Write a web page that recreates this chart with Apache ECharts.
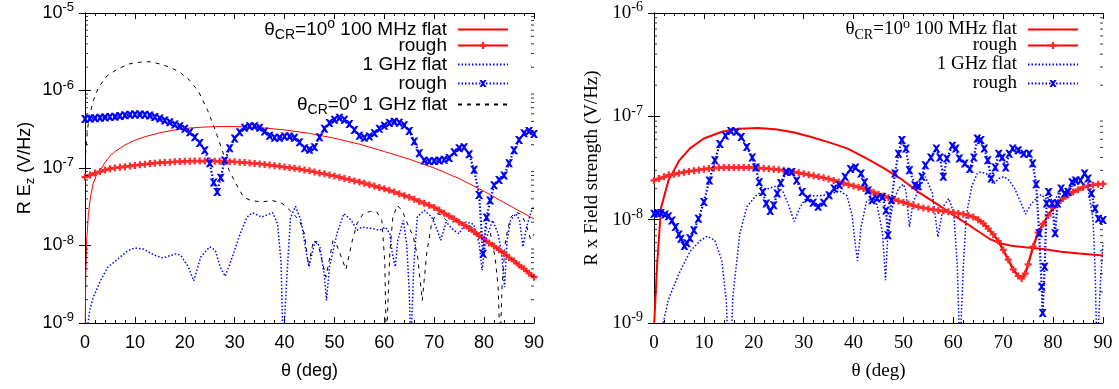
<!DOCTYPE html>
<html><head><meta charset="utf-8">
<script src="https://cdn.jsdelivr.net/npm/echarts@6.0.0/dist/echarts.min.js"></script>
<style>html,body{margin:0;padding:0;background:#fff}#c{width:1119px;height:389px}</style>
</head><body><div id="c"></div>
<script>
// ---------- LEFT PANEL DATA : [theta (deg), R*E_z (V/Hz)] ----------
const redFlatL = [[0.05,1e-9],[0.15,4e-9],[0.35,1.2e-8],[0.7,2.6e-8],[1.1,4.2e-8],[1.6,6.2e-8],[2.2,7.8e-8],[3,9.3e-8],[4,1.18e-7],[5,1.42e-7],[6,1.63e-7],[8,1.98e-7],[10,2.28e-7],[12,2.53e-7],[15,2.85e-7],[18,3.1e-7],[21,3.28e-7],[24,3.38e-7],[27,3.43e-7],[30,3.42e-7],[33,3.37e-7],[36,3.28e-7],[40,3.1e-7],[45,2.8e-7],[50,2.42e-7],[55,2.03e-7],[60,1.63e-7],[65,1.3e-7],[70,1.0e-7],[75,7.3e-8],[80,5.0e-8],[85,3.3e-8],[90,2.2e-8]];
const redRoughL = [[0,7.65e-8],[1,8.1e-8],[2,8.6e-8],[3,9.0e-8],[4,9.4e-8],[5,9.8e-8],[6,1.0e-7],[7,1.02e-7],[8,1.04e-7],[9,1.06e-7],[10,1.08e-7],[11,1.1e-7],[12,1.12e-7],[13,1.14e-7],[14,1.155e-7],[15,1.17e-7],[16,1.18e-7],[17,1.19e-7],[18,1.2e-7],[19,1.21e-7],[20,1.22e-7],[21,1.225e-7],[22,1.23e-7],[23,1.23e-7],[24,1.23e-7],[25,1.23e-7],[26,1.225e-7],[27,1.22e-7],[28,1.21e-7],[29,1.205e-7],[30,1.2e-7],[31,1.19e-7],[32,1.175e-7],[33,1.16e-7],[34,1.145e-7],[35,1.13e-7],[36,1.11e-7],[37,1.09e-7],[38,1.07e-7],[39,1.05e-7],[40,1.03e-7],[41,1.01e-7],[42,9.9e-8],[43,9.7e-8],[44,9.4e-8],[45,9.2e-8],[46,8.9e-8],[47,8.6e-8],[48,8.4e-8],[49,8.1e-8],[50,7.9e-8],[51,7.6e-8],[52,7.3e-8],[53,7.1e-8],[54,6.8e-8],[55,6.6e-8],[56,6.35e-8],[57,6.1e-8],[58,5.85e-8],[59,5.6e-8],[60,5.4e-8],[61,5.15e-8],[62,4.9e-8],[63,4.65e-8],[64,4.4e-8],[65,4.2e-8],[66,3.95e-8],[67,3.7e-8],[68,3.5e-8],[69,3.3e-8],[70,3.1e-8],[71,2.85e-8],[72,2.6e-8],[73,2.4e-8],[74,2.2e-8],[75,2.0e-8],[76,1.83e-8],[77,1.66e-8],[78,1.5e-8],[79,1.35e-8],[80,1.2e-8],[81,1.08e-8],[82,9.8e-9],[83,8.8e-9],[84,7.9e-9],[85,7.0e-9],[86,6.3e-9],[87,5.6e-9],[88,5.0e-9],[89,4.4e-9],[90,3.9e-9]];
const blueFlatL = [[0.4,8e-10],[1,1.5e-9],[1.65,2.16e-9],[3.1,3.5e-9],[4.5,5.2e-9],[6.7,6.8e-9],[8.5,8.5e-9],[10,9.3e-9],[11.7,9.0e-9],[13.9,7.5e-9],[15.7,6.9e-9],[17,7.4e-9],[18.2,7.8e-9],[19.2,7.5e-9],[20.7,5.3e-9],[21.8,3.5e-9],[23.2,7.1e-9],[25,9.6e-9],[26.1,8.7e-9],[27.1,5.3e-9],[28.1,4.0e-9],[29.3,6.45e-9],[31.1,1.42e-8],[32.5,2.33e-8],[33.6,2.65e-8],[35.4,2.33e-8],[37.6,2.65e-8],[38.6,1.9e-8],[39.3,6e-9],[39.7,5e-10],[40.1,5e-10],[40.5,4.3e-9],[41.2,2.3e-8],[42.2,3.2e-8],[43.3,2.1e-8],[44.4,7.85e-9],[44.9,5.3e-9],[45.5,7.85e-9],[46.2,1.17e-8],[47.1,9.6e-9],[48,3.95e-9],[48.4,1.95e-9],[49,5.3e-9],[50.5,1.42e-8],[51.9,2.58e-8],[53.4,2.11e-8],[54.5,1.57e-8],[55.5,1.73e-8],[57.7,1.65e-8],[59.1,1.57e-8],[60.2,1.73e-8],[61.1,1.42e-8],[61.6,7.85e-9],[62.2,5.3e-9],[62.7,1.17e-8],[63.8,2.11e-8],[64.5,1.0e-8],[65,2.4e-9],[65.3,5e-10],[65.6,5e-10],[65.9,5.3e-9],[66.6,2.33e-8],[68,2.85e-8],[69.5,2.33e-8],[70.6,1.57e-8],[71.3,1.17e-8],[72.4,2.01e-8],[73.9,1.57e-8],[75,1.42e-8],[76.4,2.01e-8],[77.9,1.88e-8],[79,1.06e-8],[79.6,4.8e-9],[80.3,1.17e-8],[81.7,2.11e-8],[82.8,1.42e-8],[83.5,7.85e-9],[84.1,2.9e-9],[84.6,1.17e-8],[85.3,2.11e-8],[86.4,2.58e-8],[87.1,2.11e-8],[87.8,9.6e-9],[88.5,1.73e-8],[89.6,2.98e-8],[90,3.1e-8]];
const blueRoughL = [[0,4.3e-7],[1,4.35e-7],[2,4.4e-7],[3,4.45e-7],[4,4.5e-7],[5,4.55e-7],[6,4.6e-7],[7,4.7e-7],[8,4.8e-7],[9,4.85e-7],[10,4.9e-7],[11,4.9e-7],[12,4.85e-7],[13,4.75e-7],[14,4.55e-7],[15,4.35e-7],[16,4.1e-7],[17,3.9e-7],[18,3.65e-7],[19,3.45e-7],[20,3.2e-7],[21,2.9e-7],[22,2.5e-7],[23,2.1e-7],[24,1.7e-7],[25,1.15e-7],[25.8,6.5e-8],[26.5,4.9e-8],[27.2,7.5e-8],[28,1.25e-7],[29,1.8e-7],[30,2.4e-7],[31,2.9e-7],[32,3.3e-7],[33,3.45e-7],[34,3.45e-7],[35,3.3e-7],[36,2.95e-7],[37,2.6e-7],[38,2.45e-7],[39,2.45e-7],[40,2.55e-7],[41,2.55e-7],[42,2.45e-7],[43,2.15e-7],[44,1.8e-7],[45,1.72e-7],[46,1.85e-7],[47,2.5e-7],[48,3.2e-7],[49,3.8e-7],[50,4.2e-7],[51,4.45e-7],[52,4.2e-7],[53,3.7e-7],[54,3.1e-7],[55,2.6e-7],[56,2.45e-7],[57,2.55e-7],[58,2.8e-7],[59,3.2e-7],[60,3.5e-7],[61,3.8e-7],[62,3.95e-7],[63,3.85e-7],[64,3.55e-7],[65,3.0e-7],[66,2.2e-7],[67,1.55e-7],[68,1.25e-7],[69,1.22e-7],[70,1.23e-7],[71,1.25e-7],[72,1.28e-7],[73,1.35e-7],[74,1.6e-7],[75,1.8e-7],[76,1.85e-7],[77,1.5e-7],[78,9.5e-8],[79,4.5e-8],[79.8,7.8e-9],[80.5,2.3e-8],[81.2,3.8e-8],[82,6.0e-8],[83,7.0e-8],[84,8.0e-8],[85,1.15e-7],[86,1.7e-7],[87,2.3e-7],[88,2.8e-7],[89,3.0e-7],[90,2.75e-7]];
const blackFlat0L = [[0.1,1.5e-7],[0.5,3.2e-7],[1,5.0e-7],[1.7,7.5e-7],[2.7,1.1e-6],[4.5,1.57e-6],[6.7,1.91e-6],[8.8,2.2e-6],[11,2.32e-6],[13,2.35e-6],[15,2.2e-6],[17,2.0e-6],[19,1.72e-6],[21,1.35e-6],[22.8,9.6e-7],[24.6,5.5e-7],[26.1,3.1e-7],[27.5,1.69e-7],[28.9,9.3e-8],[30.4,6.0e-8],[31.8,4.2e-8],[33.3,3.8e-8],[35.4,3.65e-8],[37.6,3.8e-8],[39.5,3.5e-8],[41.2,2.8e-8],[43,2.1e-8],[44,1.4e-8],[44.8,5.5e-9],[45.8,1.17e-8],[46.8,1.0e-8],[48.3,3.9e-9],[49.7,1.15e-8],[50.5,1.0e-8],[52.3,4.9e-9],[53.5,1.1e-8],[54.5,1.9e-8],[55.8,2.6e-8],[57.2,2.75e-8],[58.5,2.7e-8],[59.5,2.1e-8],[60.1,6e-9],[60.4,5e-10],[60.7,5e-10],[61.1,8e-9],[61.7,2.3e-8],[62.6,3.3e-8],[63.6,2.8e-8],[64.8,1.8e-8],[65.8,1.3e-8],[66.7,7e-9],[67.6,1.95e-9],[68.5,8e-9],[69.4,1.8e-8],[70.3,2.6e-8],[71.3,2.5e-8],[72.5,2.1e-8],[73.5,2.0e-8],[74.5,2.1e-8],[75.6,1.95e-8],[76.8,1.8e-8],[77.8,1.7e-8],[78.5,1.3e-8],[79.3,1.5e-8],[80.2,1.75e-8],[81.2,1.5e-8],[82.2,7e-9],[82.8,3e-9],[83.2,5e-10],[83.6,3e-9],[84.3,1.2e-8],[85.3,2.3e-8],[86.4,2.7e-8],[87.5,2.5e-8],[88.5,1.8e-8],[89.3,1.2e-8],[90,1.4e-8]];

// ---------- RIGHT PANEL DATA : [theta (deg), R x field strength (V/Hz)] ----------
const redFlatR = [[0.05,1e-9],[0.6,3.5e-9],[1.4,1.3e-8],[2.9,2.4e-8],[5,3.7e-8],[7.2,4.9e-8],[10,6.1e-8],[13.6,7.1e-8],[17.2,7.6e-8],[20.8,7.7e-8],[24.3,7.5e-8],[27.9,7.0e-8],[31.5,6.3e-8],[35.1,5.6e-8],[38.7,4.9e-8],[42.2,4.0e-8],[45.8,3.2e-8],[49.4,2.5e-8],[53,1.85e-8],[56.6,1.43e-8],[60.1,1.1e-8],[63.7,8.5e-9],[67.3,6.5e-9],[69.4,5.9e-9],[71.6,5.6e-9],[74.4,5.4e-9],[78,5.2e-9],[81.6,4.9e-9],[85.2,4.7e-9],[90,4.5e-9]];
const redRoughR = [[0,2.4e-8],[1,2.5e-8],[2,2.6e-8],[3,2.7e-8],[4,2.75e-8],[5,2.82e-8],[6,2.88e-8],[7,2.93e-8],[8,2.98e-8],[9,3.03e-8],[10,3.08e-8],[11,3.12e-8],[12,3.15e-8],[13,3.18e-8],[14,3.2e-8],[15,3.2e-8],[16,3.2e-8],[17,3.2e-8],[18,3.2e-8],[19,3.2e-8],[20,3.18e-8],[21,3.16e-8],[22,3.14e-8],[23,3.11e-8],[24,3.08e-8],[25,3.04e-8],[26,3.0e-8],[27,2.95e-8],[28,2.9e-8],[29,2.84e-8],[30,2.78e-8],[31,2.72e-8],[32,2.66e-8],[33,2.6e-8],[34,2.54e-8],[35,2.48e-8],[36,2.4e-8],[37,2.32e-8],[38,2.25e-8],[39,2.18e-8],[40,2.12e-8],[41,2.06e-8],[42,2.0e-8],[43,1.92e-8],[44,1.84e-8],[45,1.76e-8],[46,1.69e-8],[47,1.63e-8],[48,1.57e-8],[49,1.52e-8],[50,1.47e-8],[51,1.42e-8],[52,1.37e-8],[53,1.33e-8],[54,1.3e-8],[55,1.27e-8],[56,1.25e-8],[57,1.23e-8],[58,1.21e-8],[59,1.19e-8],[60,1.17e-8],[61,1.15e-8],[62,1.13e-8],[63,1.1e-8],[64,1.06e-8],[65,1.0e-8],[66,9.2e-9],[67,8.2e-9],[68,7.2e-9],[69,6.2e-9],[70,5.1e-9],[71,4.1e-9],[72,3.3e-9],[73,2.85e-9],[73.7,2.7e-9],[74.4,3.0e-9],[75,3.7e-9],[76,5.5e-9],[77,7.5e-9],[78,9.1e-9],[79,1.1e-8],[80,1.3e-8],[81,1.45e-8],[82,1.6e-8],[83,1.73e-8],[84,1.85e-8],[85,1.95e-8],[86,2.05e-8],[87,2.12e-8],[88,2.17e-8],[89,2.2e-8],[90,2.22e-8]];
const blueFlatR = [[1.4,8e-10],[2.9,1.7e-9],[5,3.0e-9],[7.2,4.9e-9],[9.3,6.3e-9],[10.7,6.9e-9],[12.2,6.3e-9],[13.6,4.0e-9],[14.5,1.6e-9],[14.9,5e-10],[15.4,5e-10],[15.8,1.8e-9],[17.2,7.3e-9],[18.6,1.33e-8],[20.4,1.7e-8],[22.2,1.95e-8],[24.3,2.1e-8],[25.8,1.9e-8],[26.8,1.45e-8],[28.1,9.6e-9],[29.3,1.33e-8],[30.8,1.7e-8],[32.9,1.7e-8],[35.1,1.75e-8],[37.2,1.9e-8],[38.7,1.7e-8],[39.7,1.1e-8],[40.4,5.5e-9],[40.8,4.0e-9],[41.5,8.5e-9],[42.6,1.5e-8],[43.7,1.6e-8],[44.7,1.4e-8],[45.8,7.5e-9],[46.4,2.6e-9],[46.9,7.5e-9],[48,1.5e-8],[49,2.0e-8],[50,2.2e-8],[50.5,1.9e-8],[51.2,8.5e-9],[51.9,1.45e-8],[53,1.95e-8],[54.4,2.6e-8],[55.8,1.8e-8],[56.9,6.8e-9],[58,1.35e-8],[59.1,1.6e-8],[60.1,1.15e-8],[60.8,3.5e-9],[61.3,5e-10],[61.6,5e-10],[62,3.5e-9],[62.6,1.1e-8],[63.7,2.1e-8],[64.8,2.8e-8],[65.5,2.9e-8],[66.6,2.8e-8],[68,2.2e-8],[69.1,2.5e-8],[70.2,2.6e-8],[71.2,2.4e-8],[72.3,2.0e-8],[73.4,1.5e-8],[74.5,1.13e-8],[75.5,1.4e-8],[76.6,1.6e-8],[77.6,1.75e-8],[78.5,1.6e-8],[80.2,1.5e-8],[81.6,2.0e-8],[83,2.0e-8],[84.5,2.2e-8],[85.9,2.3e-8],[87,2.0e-8],[88,1.0e-8],[88.4,3.5e-9],[88.8,5e-10],[89.2,5e-10],[89.5,2.5e-9],[90,6.0e-9]];
const blueRoughR = [[0,1.14e-8],[0.7,1.16e-8],[1.4,1.16e-8],[2.2,1.12e-8],[2.9,1.08e-8],[3.6,9.8e-9],[4.3,8.5e-9],[5,7.2e-9],[5.4,6.55e-9],[6.1,5.56e-9],[6.6,5.9e-9],[7.2,6.6e-9],[8,7.9e-9],[8.9,1.02e-8],[10,1.48e-8],[11.1,2.4e-8],[12.2,3.75e-8],[13.2,5.4e-8],[14.3,6.5e-8],[15.4,7.2e-8],[16.5,7.1e-8],[17.5,6.3e-8],[18.6,5.05e-8],[19.7,4.0e-8],[20.4,3.2e-8],[21.1,2.3e-8],[21.8,1.85e-8],[22.5,1.43e-8],[23.3,1.21e-8],[24,1.38e-8],[24.7,1.79e-8],[25.4,2.26e-8],[26.5,2.9e-8],[27.6,2.9e-8],[28.6,2.4e-8],[29.7,1.85e-8],[30.8,1.6e-8],[31.9,1.46e-8],[32.9,1.33e-8],[34,1.46e-8],[35.1,1.72e-8],[36.1,2.0e-8],[37.2,2.15e-8],[38.3,2.6e-8],[39.4,3.1e-8],[40.4,3.2e-8],[41.5,2.8e-8],[42.2,2.3e-8],[42.9,1.92e-8],[43.7,1.54e-8],[44.7,1.6e-8],[45.8,1.66e-8],[46.5,1.23e-8],[46.9,7.05e-9],[47.6,1.54e-8],[48.3,2.8e-8],[49,4.35e-8],[49.7,5.9e-8],[50.5,4.87e-8],[51.2,3.0e-8],[52.3,2.15e-8],[53,2.1e-8],[53.7,2.6e-8],[54.4,3.36e-8],[55.5,4.0e-8],[56.6,4.87e-8],[57.3,4.0e-8],[58,2.6e-8],[58.7,3.9e-8],[59.8,5.2e-8],[60.5,4.87e-8],[61.2,3.9e-8],[62.3,3.5e-8],[63.3,3.1e-8],[64.1,4.0e-8],[64.8,6.1e-8],[65.5,5.9e-8],[66.2,4.87e-8],[66.9,3.75e-8],[67.6,2.5e-8],[68.4,3.2e-8],[69.1,4.35e-8],[69.8,4.0e-8],[70.5,3.2e-8],[71.2,4.35e-8],[71.9,4.87e-8],[73,4.7e-8],[74.1,4.35e-8],[75.2,4.35e-8],[75.9,3.5e-8],[76.6,2.2e-8],[77.2,7.4e-9],[77.7,2.24e-9],[77.9,1.25e-9],[78.3,3.5e-9],[78.7,1.43e-8],[79.1,1.85e-8],[79.8,1.43e-8],[80.4,7.4e-9],[80.9,1.43e-8],[81.6,2.0e-8],[82.3,1.79e-8],[83,1.85e-8],[83.8,2.3e-8],[84.5,2.4e-8],[85.5,2.4e-8],[86.3,2.8e-8],[87,2.5e-8],[87.7,1.79e-8],[88.4,1.28e-8],[89.1,1.02e-8],[90,9.9e-9]];

// ---------- AXES / TICKS / LABELS ----------
const xTicks = {min: 0, max: 90, interval: 10};
const yRangeL = {min: 1e-9, max: 1e-5};
const yRangeR = {min: 1e-9, max: 1e-6};
const minorMantissa = [2,3,4,5,6,7,8,9];
const decadesL = [-9,-8,-7,-6];
const decadesR = [-9,-8,-7];
const legendNamesL = ['L_flat100','L_rough100','L_flat1G','L_rough1G','L_flat0'];
const legendTextL = ['{t|θ}{sb|CR}{t|=10}{sp|o}{t| 100 MHz flat}{g| }','{t|rough}{g| }','{t|1 GHz flat}{g| }','{t|rough}{g| }','{t|θ}{sb|CR}{t|=0}{sp|o}{t| 1 GHz flat}{g| }'];
const legendMarkerL = [false, true, false, true, false];
const legendNamesR = ['R_flat100','R_rough100','R_flat1G','R_rough1G'];
const legendTextR = ['{t|θ}{sb|CR}{t|=10}{sp|o}{t| 100 MHz flat}{g| }','{t|rough}{g| }','{t|1 GHz flat}{g| }','{t|rough}{g| }'];
const legendMarkerR = [false, true, false, true];
const xAxisTitle = 'θ (deg)';
const yAxisTitleL = '{t|R E}{sb|z}{t| (V/Hz)}';
const yAxisTitleR = 'R x Field strength (V/Hz)';

const SANS = 'Liberation Sans, Arial, sans-serif';
const SERIF = 'Liberation Serif, Times New Roman, serif';
const PLUS = 'path://M3.4,0H6.6V3.4H10V6.6H6.6V10H3.4V6.6H0V3.4H3.4Z';
const CROSS = 'path://M0,0L3,0L5,2.2L7,0L10,0L6.6,5L10,10L7,10L5,7.8L3,10L0,10L3.4,5Z';

function richSet(font, size){
  return {
    t: {fontFamily: font, fontSize: size, lineHeight: size + 6, color: '#000'},
    b: {fontFamily: font, fontSize: size, lineHeight: size + 6, color: '#000'},
    g: {fontFamily: font, fontSize: size, width: 6, color: '#000'},
    sb: {fontFamily: font, fontSize: Math.round(size*0.72), lineHeight: 12, verticalAlign: 'bottom', color: '#000'},
    sp: {fontFamily: font, fontSize: Math.round(size*0.72), lineHeight: 12, verticalAlign: 'top', color: '#000'}
  };
}
function logLabel(v){ const e = Math.round(Math.log10(v)); return '{b|10}{sp|' + e + '}'; }
function minorTickData(decades, x){
  const out = [];
  decades.forEach(d => minorMantissa.forEach(m => out.push([x, m * Math.pow(10, d)])));
  return out;
}

function xAxes(gi, font, size){
  const base = {gridIndex: gi, type: 'value', min: xTicks.min, max: xTicks.max, interval: xTicks.interval,
    axisLine: {show: true, lineStyle: {color: '#000', width: 1}},
    axisTick: {show: true, inside: true, length: 6, lineStyle: {color: '#000'}},
    minorTick: {show: true, splitNumber: 5, length: 3, lineStyle: {color: '#000'}},
    splitLine: {show: false}};
  return [
    Object.assign({}, base, {position: 'bottom',
      axisLabel: {show: true, color: '#000', fontFamily: font, fontSize: size, margin: 11},
      name: xAxisTitle, nameLocation: 'middle', nameGap: 39,
      nameTextStyle: {color: '#000', fontFamily: font, fontSize: size}}),
    Object.assign({}, base, {position: 'top', axisLabel: {show: false}})
  ];
}
function yAxes(gi, range, font, size, title, gap){
  const base = {gridIndex: gi, type: 'log', logBase: 10, min: range.min, max: range.max,
    axisLine: {show: true, lineStyle: {color: '#000', width: 1}},
    axisTick: {show: true, inside: true, length: 6, lineStyle: {color: '#000'}},
    minorTick: {show: false}, splitLine: {show: false}};
  return [
    Object.assign({}, base, {position: 'left',
      axisLabel: {show: true, formatter: logLabel, margin: 11, rich: richSet(font, size)},
      name: title, nameLocation: 'middle', nameGap: gap, nameRotate: 90,
      nameTextStyle: {color: '#000', fontFamily: font, fontSize: size, rich: richSet(font, size)}}),
    Object.assign({}, base, {position: 'right', axisLabel: {show: false}})
  ];
}
function minorTickSeries(xi, yi, decades){
  const common = {type: 'scatter', xAxisIndex: xi, yAxisIndex: yi, symbol: 'rect', silent: true,
    itemStyle: {color: '#000'}, z: 20, clip: false, animation: false};
  return [
    Object.assign({}, common, {data: minorTickData(decades, xTicks.min), symbolSize: [3, 1], symbolOffset: [1.5, 0]}),
    Object.assign({}, common, {data: minorTickData(decades, xTicks.max), symbolSize: [3, 1], symbolOffset: [-1.5, 0]})
  ];
}
function legends(names, texts, markers, font, size, right, tops){
  return names.map((n, i) => ({
    data: [n], formatter: texts[i], right: right, top: tops[i], orient: 'vertical',
    align: 'right', itemWidth: 50, itemHeight: 9, padding: 0, itemGap: 0,
    selectedMode: false,
    itemStyle: markers[i] ? {} : {opacity: 0},
    textStyle: {color: '#000', fontFamily: font, fontSize: size, rich: richSet(font, size)}
  }));
}
function line(name, xi, yi, data, color, width, type, symbol, symSize, z, symColor){
  return {name: name, type: 'line', xAxisIndex: xi, yAxisIndex: yi, data: data,
    showSymbol: !!symbol, symbol: symbol || 'none', symbolSize: symSize || 0,
    lineStyle: {color: color, width: width, type: type},
    itemStyle: {color: symColor || color}, z: z, animation: false, clip: true};
}

const chart = echarts.init(document.getElementById('c'), null, {renderer: 'canvas'});
chart.setOption({
  animation: false,
  backgroundColor: '#fff',
  grid: [
    {left: 85, top: 13, width: 449, height: 310},
    {left: 654, top: 13, width: 449, height: 310}
  ],
  xAxis: [].concat(xAxes(0, SANS, 18), xAxes(1, SERIF, 19)),
  yAxis: [].concat(yAxes(0, yRangeL, SANS, 18, yAxisTitleL, 48), yAxes(1, yRangeR, SERIF, 19, yAxisTitleR, 52)),
  legend: [].concat(
    legends(legendNamesL, legendTextL, legendMarkerL, SANS, 19, 610, [17, 36, 55, 74, 92]),
    legends(legendNamesR, legendTextR, legendMarkerR, SERIF, 19, 40, [17, 36, 55, 74])
  ),
  series: [
    line('L_flat0', 0, 0, blackFlat0L, '#000', 1, [4, 5], null, 0, 3),
    line('L_flat1G', 0, 0, blueFlatL, '#0000ff', 1.5, [1.5, 2], null, 0, 3),
    line('L_flat100', 0, 0, redFlatL, '#ff0000', 1, 'solid', null, 0, 4),
    line('L_rough100', 0, 0, redRoughL, '#ff0000', 2.4, 'solid', PLUS, 7, 5, '#ff2a2a'),
    line('L_rough1G', 0, 0, blueRoughL, '#0000ff', 2.2, [1.5, 2], CROSS, 8, 6),
    line('R_flat1G', 2, 2, blueFlatR, '#0000ff', 1.5, [1.5, 2], null, 0, 3),
    line('R_flat100', 2, 2, redFlatR, '#ff0000', 2, 'solid', null, 0, 4),
    line('R_rough100', 2, 2, redRoughR, '#ff0000', 2.4, 'solid', PLUS, 7, 5, '#ff2a2a'),
    line('R_rough1G', 2, 2, blueRoughR, '#0000ff', 2.2, [1.5, 2], CROSS, 8, 6)
  ].concat(minorTickSeries(0, 0, decadesL), minorTickSeries(2, 2, decadesR))
});
</script></body></html>
